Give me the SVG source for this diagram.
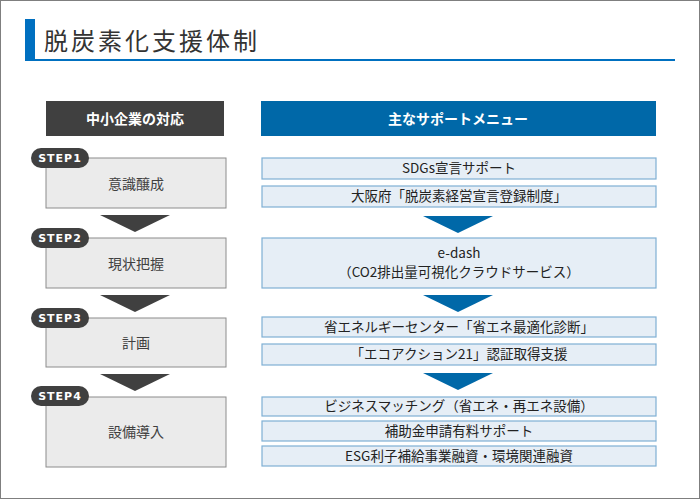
<svg xmlns="http://www.w3.org/2000/svg" width="700" height="499" viewBox="0 0 700 499">
<style>
text{font-family:"Noto Sans CJK JP","Noto Sans",sans-serif;text-anchor:middle}
.lb{fill:#ebebeb;stroke:#8c8c8c;stroke-width:1}
.rb{fill:#e6eef6;stroke:#7fb0d4;stroke-width:1.2}
.lt{font-size:14px;fill:#404040}
.rt{font-size:13.5px;fill:#222}
.badge{fill:#404040}
.bt{font-size:11px;font-weight:bold;fill:#fff;font-family:"DejaVu Sans",sans-serif;letter-spacing:1px}
.ht{font-size:14px;font-weight:bold;fill:#fff}
</style>
<rect x="0.5" y="0.5" width="699" height="498" fill="#fff" stroke="#7f7f7f"/>
<g id="title">
<rect x="25" y="19" width="10" height="41" fill="#0070c0"/>
<line x1="25" y1="60" x2="675" y2="60" stroke="#0070c0" stroke-width="2"/>
<text x="44" y="50" style="text-anchor:start;font-size:24px;fill:#333;letter-spacing:3px">脱炭素化支援体制</text>
</g>
<g id="hdrL"><rect x="46" y="101" width="178" height="35" fill="#404040"/><text class="ht" x="135" y="124">中小企業の対応</text></g>
<g id="hdrR"><rect x="261" y="101" width="395" height="35" fill="#0068a8"/><text class="ht" x="458" y="124">主なサポートメニュー</text></g>
<g id="step1"><rect class="lb" x="46" y="158" width="180" height="50"/><text class="lt" x="136" y="189">意識醸成</text><rect class="badge" x="31" y="148" width="58" height="20" rx="10"/><text class="bt" x="60" y="162">STEP1</text></g>
<g id="step2"><rect class="lb" x="46" y="238" width="180" height="50"/><text class="lt" x="136" y="269">現状把握</text><rect class="badge" x="31" y="228" width="58" height="20" rx="10"/><text class="bt" x="60" y="242">STEP2</text></g>
<g id="step3"><rect class="lb" x="46" y="318" width="180" height="49"/><text class="lt" x="136" y="348">計画</text><rect class="badge" x="31" y="308" width="58" height="20" rx="10"/><text class="bt" x="60" y="322">STEP3</text></g>
<g id="step4"><rect class="lb" x="46" y="397" width="180" height="70"/><text class="lt" x="136" y="437">設備導入</text><rect class="badge" x="31" y="386" width="58" height="20" rx="10"/><text class="bt" x="60" y="400">STEP4</text></g>
<g id="connectors">
<polygon points="100,215 170,215 135,232" fill="#404040"/>
<polygon points="100,295 170,295 135,312" fill="#404040"/>
<polygon points="100,374 170,374 135,391" fill="#404040"/>
<polygon points="423,216 493,216 458,233" fill="#0068a8"/>
<polygon points="423,295 493,295 458,312" fill="#0068a8"/>
<polygon points="423,373 493,373 458,390" fill="#0068a8"/>
</g>
<g id="m1"><rect class="rb" x="262" y="158" width="394" height="21"/><text class="rt" x="459" y="173">SDGs宣言サポート</text></g>
<g id="m2"><rect class="rb" x="262" y="186" width="394" height="21"/><text class="rt" x="459" y="201">大阪府「脱炭素経営宣言登録制度」</text></g>
<g id="m3"><rect class="rb" x="262" y="238" width="394" height="50"/><text class="rt" x="459" y="258">e-dash</text><text class="rt" x="459" y="277">（CO2排出量可視化クラウドサービス）</text></g>
<g id="m4"><rect class="rb" x="262" y="317" width="394" height="20"/><text class="rt" x="459" y="332">省エネルギーセンター「省エネ最適化診断」</text></g>
<g id="m5"><rect class="rb" x="262" y="344" width="394" height="21"/><text class="rt" x="459" y="359">「エコアクション21」認証取得支援</text></g>
<g id="m6"><rect class="rb" x="262" y="397" width="394" height="19"/><text class="rt" x="459" y="411">ビジネスマッチング（省エネ・再エネ設備）</text></g>
<g id="m7"><rect class="rb" x="262" y="421" width="394" height="20"/><text class="rt" x="459" y="436">補助金申請有料サポート</text></g>
<g id="m8"><rect class="rb" x="262" y="446" width="394" height="20"/><text class="rt" x="459" y="461">ESG利子補給事業融資・環境関連融資</text></g>
</svg>
